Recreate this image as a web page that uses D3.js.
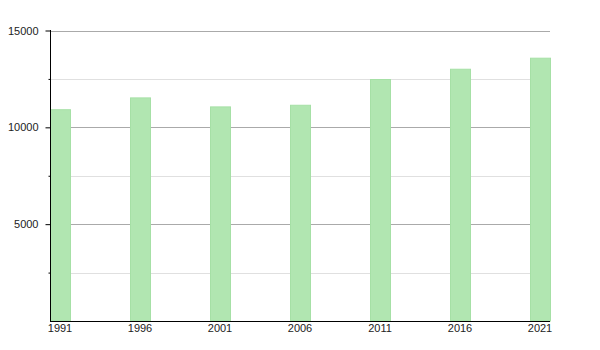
<!DOCTYPE html>
<html>
<head>
<meta charset="utf-8">
<script src="https://cdn.jsdelivr.net/npm/d3@7"></script>
<style>
  body { margin: 0; background: #fff; }
  text { font-family: "Liberation Sans", Arial, sans-serif; font-size: 11px; fill: #222; }
</style>
</head>
<body>
<div id="chart"></div>
<script>
var width = 600;
var height = 350;

var years = ["1991", "1996", "2001", "2006", "2011", "2016", "2021"];
var population = [10910, 11520, 11055, 11140, 12470, 13000, 13570];
var majorTicks = [5000, 10000, 15000];
var minorTicks = [2500, 7500, 12500];

var xScale = d3.scaleBand().domain(years).range([50, 550])
    .paddingInner(0.75).paddingOuter(0);
var yScale = d3.scaleLinear().domain([0, 15000]).range([321, 30.5]);

var svg = d3.select("#chart")
    .append("svg")
    .attr("width", width)
    .attr("height", height);

// grid lines
svg.selectAll(".minor")
    .data(minorTicks)
    .enter()
    .append("line")
    .attr("x1", 50)
    .attr("x2", 550)
    .attr("y1", function(d) { return Math.round(yScale(d)) + 0.5; })
    .attr("y2", function(d) { return Math.round(yScale(d)) + 0.5; })
    .attr("stroke", "#e0e0e0");

svg.selectAll(".major")
    .data(majorTicks)
    .enter()
    .append("line")
    .attr("x1", 50)
    .attr("x2", 550)
    .attr("y1", function(d) { return Math.round(yScale(d)) + 0.5; })
    .attr("y2", function(d) { return Math.round(yScale(d)) + 0.5; })
    .attr("stroke", "#aaaaaa");

// bars
svg.selectAll("rect")
    .data(population)
    .enter()
    .append("rect")
    .attr("x", function(d, i) { return xScale(years[i]) + 0.5; })
    .attr("y", function(d) { return yScale(d); })
    .attr("width", xScale.bandwidth())
    .attr("height", function(d) { return yScale(0) - yScale(d); })
    .attr("fill", "#b1e6b1")
    .attr("stroke", "#a6e0a6")
    .attr("stroke-width", 1);

// y axis
var yAxis = d3.axisLeft(yScale).tickValues(majorTicks).tickSize(5).tickPadding(7)
    .tickFormat(d3.format("d"));
var yAxisMinor = d3.axisLeft(yScale).tickValues(minorTicks).tickSize(2).tickFormat("");

svg.append("g")
    .attr("transform", "translate(50.5,0)")
    .call(yAxisMinor)
    .call(function(g) { g.select(".domain").remove(); });

svg.append("g")
    .attr("transform", "translate(50.5,0)")
    .call(yAxis)
    .call(function(g) {
        g.select(".domain").attr("d", "M0," + yScale(0) + "V" + (yScale(15000) - 0.5));
        g.selectAll("text").style("font-size", "11px").attr("fill", "#222");
    });

// x axis
var xAxis = d3.axisBottom(xScale).tickSize(0).tickPadding(3);
svg.append("g")
    .attr("transform", "translate(0," + (yScale(0) + 0.5) + ")")
    .call(xAxis)
    .call(function(g) {
        g.select(".domain").attr("d", "M50,0H550");
        g.selectAll("text").style("font-size", "11px").attr("fill", "#222");
    });
</script>
</body>
</html>
